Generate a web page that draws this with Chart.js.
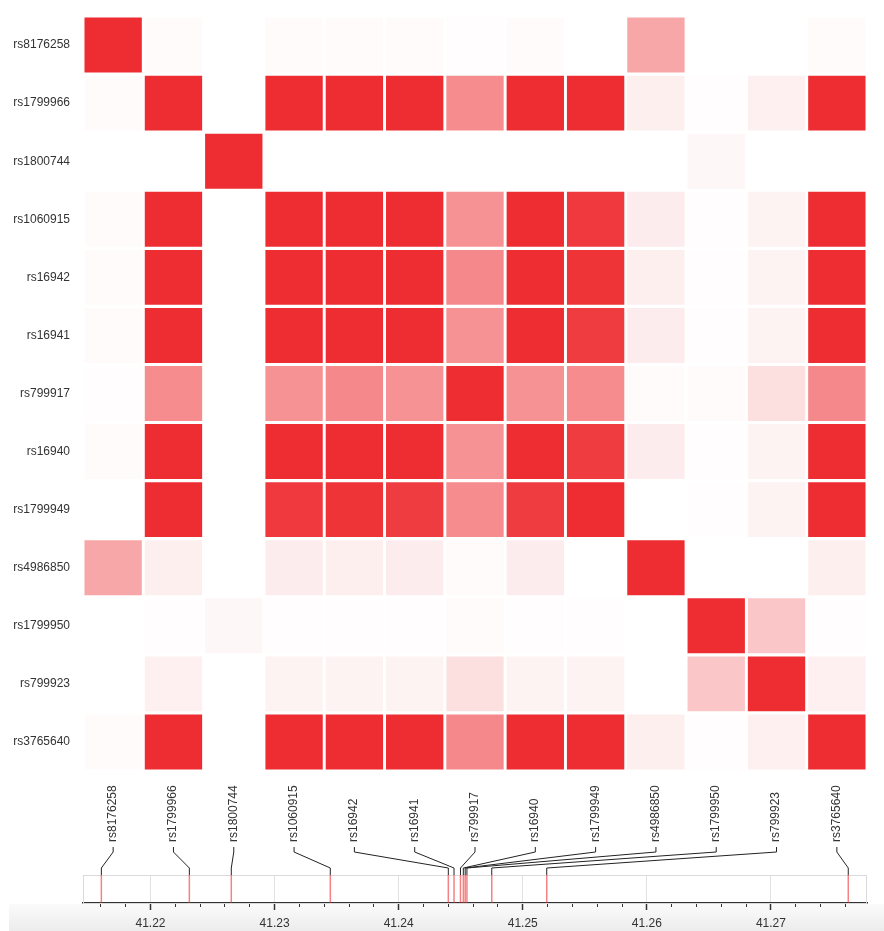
<!DOCTYPE html>
<html><head><meta charset="utf-8">
<script src="https://cdn.jsdelivr.net/npm/chart.js@4.4.1/dist/chart.umd.min.js"></script>
<style>
html,body{margin:0;padding:0;background:#fff;}
body{width:884px;height:931px;position:relative;overflow:hidden;}
#shade{position:absolute;left:9px;right:0;top:904px;bottom:0;background:linear-gradient(to bottom,#fbfbfb,#ececec);}
#heat{position:absolute;left:0;top:0;}
#track{position:absolute;left:0;top:776px;}
</style></head><body>
<div id="shade"></div>
<canvas id="heat" width="884" height="775"></canvas>
<canvas id="track" width="884" height="155"></canvas>
<script>
// SNP names (rows and columns, in order)
const snps = ["rs8176258","rs1799966","rs1800744","rs1060915","rs16942","rs16941","rs799917","rs16940","rs1799949","rs4986850","rs1799950","rs799923","rs3765640"];
// genomic position of each SNP (Mb)
const positionsMb = [41.21604,41.22313,41.22651,41.23449,41.24400,41.24446,41.24498,41.24521,41.24536,41.24550,41.24750,41.25193,41.27623];
// pairwise LD (r^2), row by row
const ldRow1  = [1.00,0.02,0.00,0.02,0.02,0.02,0.01,0.02,0.00,0.42,0.00,0.00,0.02];
const ldRow2  = [0.02,1.00,0.00,1.00,1.00,1.00,0.55,1.00,1.00,0.08,0.01,0.07,1.00];
const ldRow3  = [0.00,0.00,1.00,0.00,0.00,0.00,0.00,0.00,0.00,0.00,0.04,0.00,0.00];
const ldRow4  = [0.02,1.00,0.00,1.00,1.00,1.00,0.52,1.00,0.94,0.09,0.01,0.06,1.00];
const ldRow5  = [0.02,1.00,0.00,1.00,1.00,1.00,0.57,1.00,0.97,0.08,0.01,0.06,1.00];
const ldRow6  = [0.02,1.00,0.00,1.00,1.00,1.00,0.52,1.00,0.93,0.09,0.01,0.06,1.00];
const ldRow7  = [0.01,0.55,0.00,0.52,0.57,0.52,1.00,0.52,0.55,0.02,0.02,0.15,0.57];
const ldRow8  = [0.02,1.00,0.00,1.00,1.00,1.00,0.52,1.00,0.93,0.09,0.01,0.06,1.00];
const ldRow9  = [0.00,1.00,0.00,0.94,0.97,0.93,0.55,0.93,1.00,0.00,0.01,0.06,1.00];
const ldRow10 = [0.42,0.08,0.00,0.09,0.08,0.09,0.02,0.09,0.00,1.00,0.00,0.00,0.08];
const ldRow11 = [0.00,0.01,0.04,0.01,0.01,0.01,0.02,0.01,0.01,0.00,1.00,0.27,0.01];
const ldRow12 = [0.00,0.07,0.00,0.06,0.06,0.06,0.15,0.06,0.06,0.00,0.27,1.00,0.07];
const ldRow13 = [0.02,1.00,0.00,1.00,1.00,1.00,0.57,1.00,1.00,0.08,0.01,0.07,1.00];
const ld = [ldRow1,ldRow2,ldRow3,ldRow4,ldRow5,ldRow6,ldRow7,ldRow8,ldRow9,ldRow10,ldRow11,ldRow12,ldRow13];
// genomic axis
const axisMin = 41.21456, axisMax = 41.27774;
const majorTickStep = 0.01, minorTickStep = 0.002;

const FONT = {family:'"Helvetica Neue", Helvetica, Arial, "Liberation Sans", sans-serif', size:12};
const TEXT = '#333';
const red = a => `rgba(238,45,50,${a})`;

new Chart(document.getElementById('heat'), {
  type:'bar',
  data:{
    labels:snps,
    datasets: ld.map((row, r) => ({
      label:snps[r],
      data: row.map(() => [r - 0.473, r + 0.473]),
      backgroundColor: row.map(v => red(v)),
      borderWidth:0,
      grouped:false,
      categoryPercentage:1,
      barPercentage:0.951
    }))
  },
  options:{
    responsive:false, animation:false, events:[],
    layout:{padding:{top:16,right:17,bottom:4,left:0}},
    plugins:{legend:{display:false},tooltip:{enabled:false}},
    scales:{
      x:{display:false, offset:true},
      y:{type:'linear', reverse:true, min:-0.5, max:snps.length-0.5,
         grid:{display:false, drawTicks:false}, border:{display:false},
         afterBuildTicks: s => { s.ticks = snps.map((_, i) => ({value:i})); },
         afterFit: s => { s.width = 83; s.paddingTop = 0; s.paddingBottom = 0; },
         ticks:{padding:13, color:TEXT, font:FONT, autoSkip:false, callback: v => snps[v]}}
    }
  }
});

const trackPlugin = {
  id:'trackDecor',
  beforeDatasetsDraw(chart){
    const {ctx, chartArea:a} = chart;
    ctx.save();
    ctx.strokeStyle = '#dadada'; ctx.lineWidth = 1;
    ctx.strokeRect(a.left + 0.5, a.top + 0.5, a.width - 1, a.height);
    ctx.restore();
  },
  afterDatasetsDraw(chart){
    const {ctx, chartArea:a, scales} = chart;
    ctx.save();
    ctx.strokeStyle = '#222'; ctx.lineWidth = 1; ctx.lineJoin = 'round';
    snps.forEach((s, i) => {
      const cx = scales.xCat.getPixelForValue(i);
      const px = scales.x.getPixelForValue(positionsMb[i]);
      ctx.beginPath();
      ctx.moveTo(cx, a.top - 28);
      ctx.lineTo(cx, a.top - 23);
      ctx.lineTo(px, a.top - 7);
      ctx.lineTo(px, a.top);
      ctx.stroke();
    });
    ctx.restore();
  }
};

new Chart(document.getElementById('track'), {
  type:'scatter',
  data:{
    datasets: positionsMb.map((p, i) => ({
      label:snps[i],
      data:[{x:p, y:0}, {x:p, y:1}],
      xAxisID:'x', yAxisID:'y',
      showLine:true, pointRadius:0, borderWidth:1.5,
      borderColor:red(0.6)
    }))
  },
  options:{
    responsive:false, animation:false, events:[],
    layout:{padding:{top:0,right:17,bottom:0,left:83}},
    plugins:{legend:{display:false},tooltip:{enabled:false}},
    scales:{
      x:{type:'linear', position:'bottom', min:axisMin, max:axisMax,
         afterFit: s => { s.height = 28; },
         grid:{color:'#e2e2e2', lineWidth:1, tickColor:'#333', tickLength:7, tickWidth:1.5},
         border:{color:'#333', width:1.5},
         ticks:{stepSize:majorTickStep, includeBounds:false, padding:6, color:TEXT, font:FONT,
                maxRotation:0, autoSkip:false, callback: v => v.toFixed(2)}},
      xMinor:{type:'linear', position:{y:0}, min:axisMin, max:axisMax,
         grid:{drawOnChartArea:false, tickLength:4, tickColor:'#333', tickWidth:1},
         border:{display:false},
         ticks:{display:false, stepSize:minorTickStep, includeBounds:false, maxTicksLimit:100}},
      xCat:{type:'category', labels:snps, position:'top', offset:true,
         afterFit: s => { s.height = 99; },
         grid:{display:false, drawTicks:false}, border:{display:false},
         ticks:{minRotation:90, maxRotation:90, autoSkip:false, padding:33, labelOffset:14,
                color:TEXT, font:FONT}},
      y:{type:'linear', min:0, max:1, display:false}
    }
  },
  plugins:[trackPlugin]
});
</script>
</body></html>
